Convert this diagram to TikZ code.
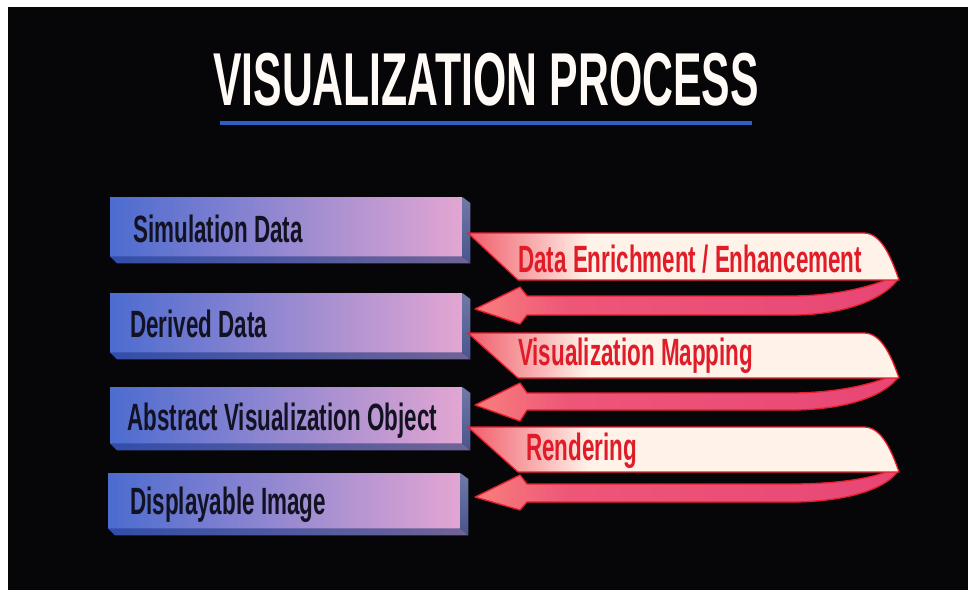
\documentclass[tikz,border=0pt]{standalone}
\usepackage{fontspec}
\usetikzlibrary{calc}
\newfontfamily\lblfont{Liberation Sans}[FakeStretch=0.59]
\newfontfamily\headfont{Liberation Sans}[FakeStretch=0.57]

\definecolor{bgblack}{RGB}{6,6,8}
\definecolor{barblue}{RGB}{76,108,208}
\definecolor{barpink}{RGB}{226,166,210}
\definecolor{barbotL}{RGB}{50,78,170}
\definecolor{barbotR}{RGB}{112,100,150}
\definecolor{barsideT}{RGB}{112,122,168}
\definecolor{barsideB}{RGB}{72,84,140}
\definecolor{labelink}{RGB}{18,18,34}
\definecolor{bandred}{RGB}{240,92,106}
\definecolor{bandcream}{RGB}{255,242,232}
\definecolor{ribbonline}{RGB}{232,30,44}
\definecolor{headpink}{RGB}{246,120,124}
\definecolor{shaftpink}{RGB}{238,86,120}
\definecolor{shaftmag}{RGB}{232,70,118}
\definecolor{labelred}{RGB}{224,28,40}
\definecolor{rulecol}{RGB}{44,96,196}

% band: red at the slanted left end, cream over the rest
\pgfdeclarehorizontalshading{bandfill}{100bp}{color(0bp)=(bandred); color(25bp)=(bandred); color(39bp)=(bandcream); color(100bp)=(bandcream)}
% return arrow: salmon head, pink shaft turning magenta at the fold
\pgfdeclarehorizontalshading{shaftfill}{100bp}{color(0bp)=(headpink); color(27bp)=(headpink); color(36bp)=(shaftpink); color(75bp)=(shaftmag); color(100bp)=(shaftmag)}

\tikzset{
  barface/.style={draw=none, left color=barblue, right color=barpink,
    minimum width=352pt, anchor=north west, inner sep=0pt},
  barbottom/.style={left color=barbotL, right color=barbotR},
  barside/.style={top color=barsideT, bottom color=barsideB},
  bartext/.style={font={\lblfont\bfseries\fontsize{38pt}{40pt}\selectfont},
    text=labelink, inner sep=0pt, anchor=base west},
  bandtext/.style={font={\lblfont\bfseries\fontsize{38pt}{40pt}\selectfont},
    text=labelred, inner sep=0pt, anchor=base west},
  band/.style={shade, shading=bandfill, draw=ribbonline, line width=1.3pt, line join=round},
  returnarrow/.style={shade, shading=shaftfill, draw=ribbonline, line width=1.3pt, line join=round},
}

% 3D depth of a bar: bottom and right faces behind the front face
\newcommand\bardepth[1]{%
  \path[barbottom] (#1.south west) -- (#1.south east) -- ($(#1.south east)+(8,7)$)
    -- ($(#1.south west)+(7,7)$) -- cycle;
  \path[barside] (#1.north east) -- ($(#1.north east)+(8,6)$)
    -- ($(#1.south east)+(8,7)$) -- (#1.south east) -- cycle;
}

% #1 band top, #2 band bottom, #3/#4 shaft top/bottom, #5/#6 head top/bottom, #7 tip
\newcommand\ribbon[7]{%
  \path[returnarrow] (898,#2-1) .. controls (888,#2+14) and (855,#4-1) .. (795,#4)
    -- (527,#4) -- (520,#6) -- (475,#7) -- (520,#5) -- (527,#3) -- (790,#3)
    .. controls (835,#3) and (868,#2+7) .. (886,#2) -- cycle;
  \path[band] (468,#1) -- (864,#1) .. controls (882,#1) and (892,#2-20) .. (899,#2)
    -- (518,#2) -- cycle;
}

\begin{document}
\begin{tikzpicture}[x=1pt, y=-1pt]
\useasboundingbox (0,0) rectangle (968,592);
\fill[white] (0,0) rectangle (968,592);
\fill[bgblack] (8,7) rectangle (968,590);

% heading and rule
\node[anchor=base west, inner sep=0pt, text={rgb,255:red,255;green,250;blue,245},
  font={\headfont\bfseries\fontsize{75pt}{80pt}\selectfont}] (title) at (213,105)
  {VISUALIZATION PROCESS};
\coordinate (ruleL) at (220,123);
\coordinate (ruleR) at (752,123);
\draw[rulecol, line width=3.5pt] (ruleL) -- (ruleR);

% data stages
\node[barface, minimum height=59pt] (sim) at (110,197) {};
\node[barface, minimum height=59pt] (der) at (110,293) {};
\node[barface, minimum height=56pt] (avo) at (110,387) {};
\node[barface, minimum height=55pt] (img) at (108,473) {};
\bardepth{sim}
\bardepth{der}
\bardepth{avo}
\bardepth{img}
\node[bartext] (simT) at (133,242) {Simulation Data};
\node[bartext] (derT) at (130,337) {Derived Data};
\node[bartext] (avoT) at (127,430) {Abstract Visualization Object};
\node[bartext] (imgT) at (130,514) {Displayable Image};

% transformations between stages
\ribbon{233}{280}{296}{315}{287}{324}{309}
\ribbon{333}{378}{393}{410}{383}{421}{405}
\ribbon{427}{472}{484}{502}{475}{510}{497}
\node[bandtext] (enrich) at (518,272) {Data Enrichment / Enhancement};
\node[bandtext] (mapping) at (518,365) {Visualization Mapping};
\node[bandtext] (render) at (526,460) {Rendering};
\end{tikzpicture}
\end{document}
